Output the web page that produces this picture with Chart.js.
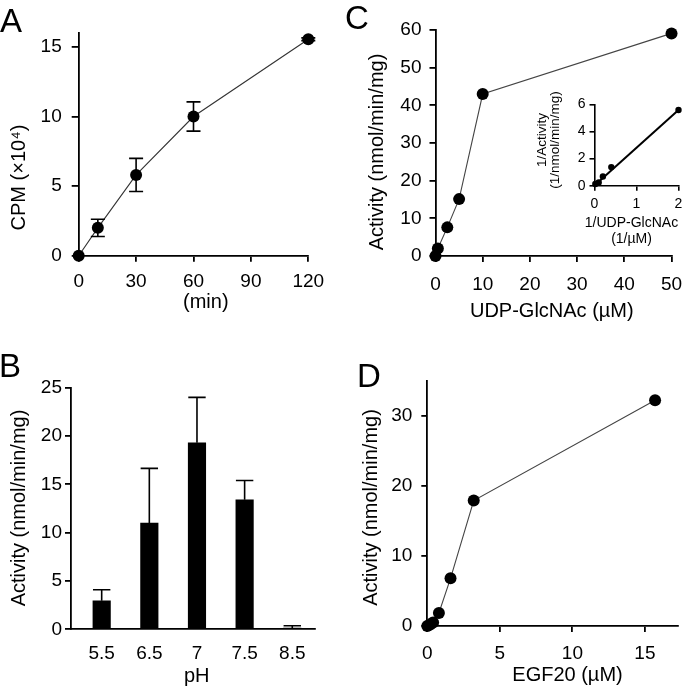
<!DOCTYPE html>
<html>
<head>
<meta charset="utf-8">
<script src="https://cdn.jsdelivr.net/npm/chart.js@4.4.1/dist/chart.umd.min.js"></script>
<style>
  html, body { margin: 0; padding: 0; background: #fff; }
  #fig { position: relative; width: 693px; height: 695px; overflow: hidden;
         font-family: "Liberation Sans", Arial, Helvetica, sans-serif; }
  #fig canvas { position: absolute; }
  .tag { position: absolute; font-size: 33px; line-height: 33px; color: #000; }
</style>
</head>
<body>
<div id="fig">
  <canvas id="chartA" width="340" height="330" style="left:0;top:0"></canvas>
  <canvas id="chartB" width="340" height="355" style="left:0;top:340px"></canvas>
  <canvas id="chartC" width="353" height="330" style="left:340px;top:0"></canvas>
  <canvas id="chartInset" width="160" height="190" style="left:530px;top:70px"></canvas>
  <canvas id="chartD" width="353" height="355" style="left:340px;top:340px"></canvas>
  <div class="tag" style="left:0;top:4px">A</div>
  <div class="tag" style="left:-1px;top:349px">B</div>
  <div class="tag" style="left:345px;top:1px">C</div>
  <div class="tag" style="left:357px;top:359px">D</div>
</div>
<script>
const FONT = "'Liberation Sans', Arial, Helvetica, sans-serif";

// A: time course
const timeMin = [0, 10, 30, 60, 120];
const cpm = [0, 2.0, 5.8, 10.0, 15.55];
const cpmErr = [0, 0.62, 1.19, 1.05, 0.1];

// B: pH profile
const phLabels = ["5.5", "6.5", "7", "7.5", "8.5"];
const phActivity = [2.95, 11.0, 19.3, 13.4, 0.12];
const phErrUp = [1.15, 5.65, 4.7, 2.0, 0.25];

// C: UDP-GlcNAc
const udpConc = [0, 0.5, 2.5, 5, 10, 50];
const udpActivity = [0, 2.0, 7.6, 15.1, 43.0, 59.1];

// C inset: double reciprocal
const invUdp = [0.02, 0.1, 0.2, 0.4, 2.0];
const invActivity = [0.12, 0.24, 0.68, 1.37, 5.58];
const fitX = [0, 2];
const fitY = [0.02, 5.58];

// D: EGF20
const egfConc = [0, 0.2, 0.4, 0.8, 1.6, 3.2, 15.7];
const egfActivity = [0, 0.2, 0.5, 1.85, 6.8, 17.9, 32.2];

const pts = (xs, ys) => xs.map((x, i) => ({ x, y: ys[i] }));

// draws error bars from ds.errorBars through the chart's scales
const errorBarPlugin = {
  id: "errorBars",
  afterDatasetsDraw(chart) {
    const { ctx, scales } = chart;
    chart.data.datasets.forEach((ds) => {
      const eb = ds.errorBars;
      if (!eb) return;
      ctx.save();
      ctx.strokeStyle = "#000";
      ctx.lineWidth = eb.width;
      ds.data.forEach((p, j) => {
        if (!eb.plus[j]) return;
        const px = scales.x.getPixelForValue(p.x);
        const top = scales.y.getPixelForValue(p.y + eb.plus[j]);
        const bot = scales.y.getPixelForValue(p.y - (eb.minus ? eb.minus[j] : 0));
        ctx.beginPath();
        ctx.moveTo(px, bot); ctx.lineTo(px, top);
        ctx.moveTo(px - eb.cap, top); ctx.lineTo(px + eb.cap, top);
        if (eb.minus) { ctx.moveTo(px - eb.cap, bot); ctx.lineTo(px + eb.cap, bot); }
        ctx.stroke();
      });
      ctx.restore();
    });
  }
};

// axis titles, placed in canvas pixels
const titlePlugin = {
  id: "panelText",
  afterDraw(chart, args, opts) {
    const ctx = chart.ctx;
    (opts.items || []).forEach((it) => {
      const lines = [].concat(it.text);
      const lh = it.lineHeight || it.size * 1.2;
      ctx.save();
      ctx.font = it.size + "px " + FONT;
      ctx.fillStyle = "#000";
      ctx.textAlign = "center";
      ctx.textBaseline = "middle";
      ctx.translate(it.x, it.y);
      if (it.rotate) ctx.rotate(-Math.PI / 2);
      lines.forEach((line, i) => ctx.fillText(line, 0, (i - (lines.length - 1) / 2) * lh));
      ctx.restore();
    });
  }
};

function axis(min, max, step, o) {
  const ticks = {
    stepSize: step, includeBounds: false, padding: o.pad, color: "#000",
    font: { family: FONT, size: o.size || 19 }, maxRotation: 0, autoSkip: false,
  };
  if (o.cb) ticks.callback = o.cb;
  return {
    type: "linear", min, max, offset: false,
    border: { display: true, color: "#000", width: o.bw || 1.8 },
    grid: {
      display: o.tick > 0, drawTicks: o.tick > 0, drawOnChartArea: false,
      tickLength: o.tick, color: "#000", lineWidth: o.bw || 1.8,
    },
    ticks,
    afterFit: (s) => { if (s.isHorizontal()) s.height = o.fit; else s.width = o.fit; },
  };
}

function baseOptions(padding, scales, titles) {
  return {
    responsive: false,
    animation: false,
    devicePixelRatio: 1,
    layout: { padding },
    plugins: { legend: { display: false }, tooltip: { enabled: false }, panelText: { items: titles } },
    scales,
  };
}

function lineSet(data, radius, lineColor) {
  return {
    data, clip: false,
    borderColor: lineColor, borderWidth: 1.1,
    pointRadius: radius, pointBackgroundColor: "#000", pointBorderColor: "#000", pointBorderWidth: 0,
    tension: 0,
  };
}

// A
new Chart(document.getElementById("chartA"), {
  type: "line",
  data: { datasets: [Object.assign(lineSet(pts(timeMin, cpm), 6, "#333"),
    { errorBars: { plus: cpmErr, minus: cpmErr, cap: 7, width: 1.6 } })] },
  options: baseOptions({ left: 0, top: 33, right: 31.7, bottom: 0 }, {
    x: axis(0, 120, 30, { tick: 6, pad: 8.6, fit: 74.3 }),
    y: axis(0, 16, 5, { tick: 7, pad: 10, fit: 78.7 }),
  }, [
    { text: "CPM (×10⁴)", x: 19, y: 177.5, size: 20, rotate: true },
    { text: "(min)", x: 205.8, y: 302, size: 20 },
  ]),
  plugins: [errorBarPlugin, titlePlugin],
});

// B
new Chart(document.getElementById("chartB"), {
  type: "bar",
  data: { datasets: [{
    data: pts(phLabels.map((_, i) => i), phActivity),
    backgroundColor: "#000", borderWidth: 0, barThickness: 17.5,
    errorBars: { plus: phErrUp, cap: 8.7, width: 1.6 },
  }] },
  options: baseOptions({ left: 0, top: 47.7, right: 25, bottom: 0 }, {
    x: axis(-0.644, 4.477, 1, { tick: 0, pad: 12.6, fit: 65.7, cb: (v) => phLabels[v] ?? "" }),
    y: axis(0, 25, 5, { tick: 6, pad: 3, fit: 71 }),
  }, [
    { text: "Activity (nmol/min/mg)", x: 19, y: 168, size: 20, rotate: true },
    { text: "pH", x: 196.7, y: 336, size: 20 },
  ]),
  plugins: [errorBarPlugin, titlePlugin],
});

// C
new Chart(document.getElementById("chartC"), {
  type: "line",
  data: { datasets: [lineSet(pts(udpConc, udpActivity), 6, "#444")] },
  options: baseOptions({ left: 0, top: 30, right: 16.3, bottom: 0 }, {
    x: axis(0, 50, 10, { tick: 6, pad: 10.9, fit: 74 }),
    y: axis(0, 60, 10, { tick: 6, pad: 8, fit: 95.5 }),
  }, [
    { text: "Activity (nmol/min/mg)", x: 37.5, y: 152, size: 20, rotate: true },
    { text: "UDP-GlcNAc (µM)", x: 211.8, y: 311, size: 20 },
  ]),
  plugins: [titlePlugin],
});

// C inset
new Chart(document.getElementById("chartInset"), {
  type: "line",
  data: { datasets: [
    { data: pts(fitX, fitY), clip: false, borderColor: "#000", borderWidth: 2, pointRadius: 0 },
    { data: pts(invUdp, invActivity), clip: false, showLine: false,
      pointRadius: 3.2, pointBackgroundColor: "#000", pointBorderWidth: 0 },
  ] },
  options: baseOptions({ left: 0, top: 34.3, right: 11.5, bottom: 0 }, {
    x: axis(0, 2, 1, { tick: 5, pad: 4.8, fit: 74.3, size: 14, bw: 1.6 }),
    y: axis(0, 6, 2, { tick: 5, pad: 4, fit: 64.5, size: 14, bw: 1.6 }),
  }, [
    { text: ["1/Activity", "(1/nmol/min/mg)"], x: 18.5, y: 70, size: 13.5, lineHeight: 13, rotate: true },
    { text: ["1/UDP-GlcNAc", "(1/µM)"], x: 101.5, y: 161, size: 14, lineHeight: 16.5 },
  ]),
  plugins: [titlePlugin],
});

// D
new Chart(document.getElementById("chartD"), {
  type: "line",
  data: { datasets: [lineSet(pts(egfConc, egfActivity), 6, "#444")] },
  options: baseOptions({ left: 0, top: 40.7, right: 14.7, bottom: 0 }, {
    x: axis(0, 17.3, 5, { tick: 6, pad: 9.9, fit: 69 }),
    y: axis(0, 35, 10, { tick: 6, pad: 9, fit: 87.3 }),
  }, [
    { text: "Activity (nmol/min/mg)", x: 31, y: 167.5, size: 20, rotate: true },
    { text: "EGF20 (µM)", x: 227.5, y: 335, size: 20 },
  ]),
  plugins: [titlePlugin],
});
</script>
</body>
</html>
